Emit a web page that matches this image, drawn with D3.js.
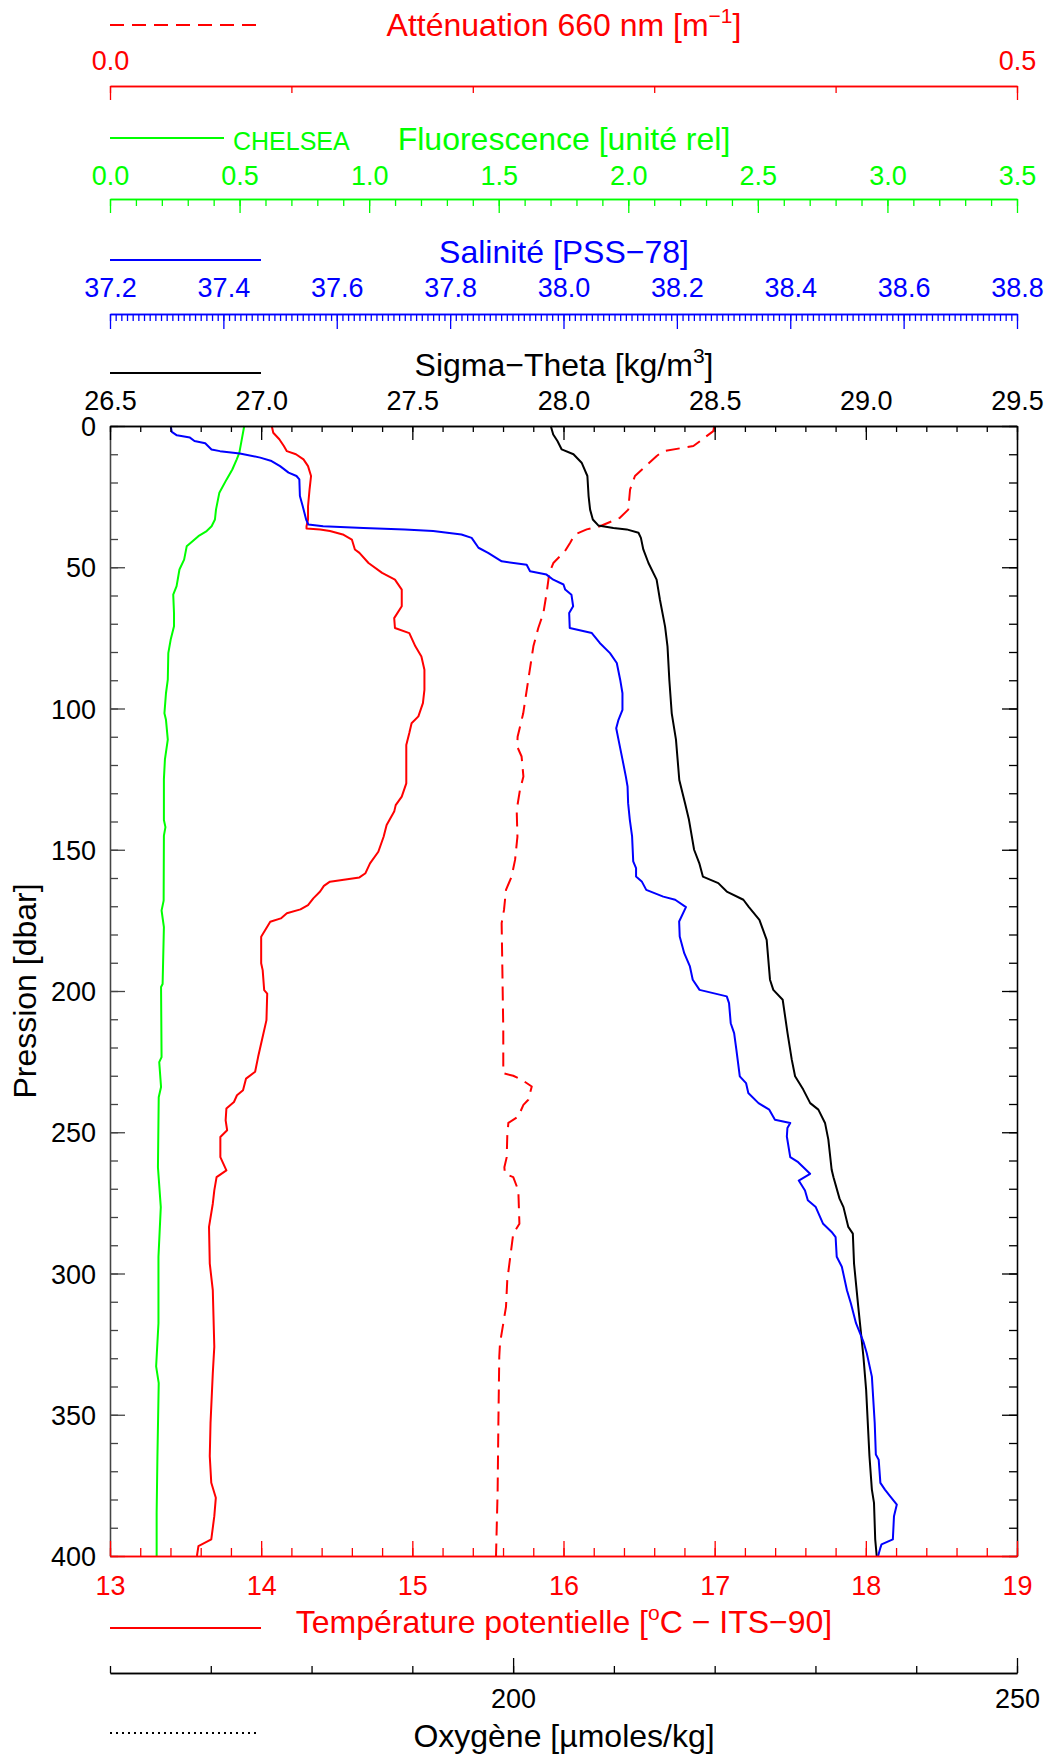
<!DOCTYPE html>
<html>
<head>
<meta charset="utf-8">
<script src="https://cdn.jsdelivr.net/npm/d3@7"></script>
<style>
  body { margin: 0; background: #fff; }
  svg { display: block; }
  text { font-family: "Liberation Sans", Arial, sans-serif; }
</style>
</head>
<body>
<script>
const W = 1050, H = 1756;
const X0 = 110, X1 = 1017, Y0 = 426, Y1 = 1556;
const TICK_FONT = 27;

// [pression dbar, valeur]
const temperature = [[0,14.07],[2.4,14.08],[4.7,14.12],[7.1,14.15],[8.9,14.17],[10,14.23],[11.8,14.28],[14.2,14.31],[17.7,14.33],[22.5,14.32],[28.4,14.31],[33.1,14.31],[35.5,14.30],[36.3,14.30],[36.6,14.39],[37.2,14.455],[38.4,14.54],[40.2,14.60],[43.7,14.62],[44.9,14.65],[48.5,14.71],[52,14.80],[54.4,14.885],[57.9,14.93],[63.8,14.93],[68,14.88],[71.5,14.885],[73.3,14.98],[78,15.02],[81.6,15.06],[86.3,15.08],[93.4,15.08],[98.1,15.07],[102.8,15.04],[105.2,14.995],[108.7,14.98],[112.9,14.96],[126.5,14.96],[131.2,14.93],[134.2,14.89],[136.5,14.88],[141.2,14.83],[145.4,14.81],[150.7,14.775],[154.8,14.72],[158.3,14.69],[159.8,14.65],[161.3,14.455],[162.8,14.415],[164.8,14.39],[167.2,14.345],[169.6,14.31],[171.1,14.26],[172.5,14.17],[174.3,14.13],[175.5,14.06],[180.8,14.00],[190.2,14.00],[192.6,14.01],[199.7,14.02],[200.9,14.04],[210.3,14.035],[216.2,14.01],[223.3,13.98],[228.6,13.96],[231,13.90],[235.1,13.88],[236.9,13.84],[239.3,13.82],[241.6,13.77],[245.8,13.765],[249.3,13.775],[251.7,13.73],[258.8,13.73],[263.5,13.77],[265.9,13.705],[270.6,13.69],[275.3,13.68],[283.5,13.655],[296.5,13.66],[305.9,13.68],[325.9,13.69],[335.3,13.68],[352.9,13.665],[364.7,13.66],[374.1,13.67],[379.4,13.70],[385.9,13.69],[394.1,13.67],[396.5,13.585],[400,13.575]];

const salinite = [[0,37.307],[2.1,37.309],[3.3,37.318],[4.1,37.341],[5.3,37.349],[6.1,37.368],[8.3,37.379],[8.9,37.394],[9.7,37.429],[11.2,37.465],[12.4,37.485],[14.2,37.50],[16.5,37.515],[17.7,37.529],[18.9,37.534],[24.8,37.535],[28.4,37.54],[33.1,37.546],[34.9,37.55],[35.5,37.576],[36.1,37.647],[36.6,37.72],[37.2,37.77],[38.4,37.82],[39.6,37.838],[43.1,37.85],[44.9,37.867],[47.9,37.891],[49.1,37.935],[51.4,37.941],[52.6,37.97],[54.4,37.982],[56.1,38.0],[57.9,38.003],[59.7,38.014],[63.8,38.017],[66.2,38.01],[71.5,38.011],[73.3,38.05],[76.8,38.064],[80.4,38.082],[83.9,38.094],[89.8,38.10],[94.6,38.104],[100.5,38.104],[104,38.097],[107,38.093],[111,38.097],[118,38.104],[124.1,38.11],[127.6,38.113],[133.5,38.114],[139.4,38.117],[145.3,38.121],[154.1,38.123],[156.5,38.128],[159.5,38.128],[161.2,38.138],[164.2,38.146],[166.6,38.176],[167.7,38.197],[170.3,38.216],[175.4,38.204],[180.7,38.205],[186.6,38.213],[191.3,38.223],[196,38.228],[199.6,38.24],[201.9,38.288],[204.3,38.292],[211.4,38.295],[214.9,38.301],[220.8,38.305],[230.2,38.311],[232.6,38.322],[236.1,38.326],[239.7,38.344],[242,38.363],[245.6,38.373],[246.7,38.40],[248.5,38.395],[251.5,38.394],[258.8,38.40],[260.6,38.414],[264.7,38.435],[267.1,38.415],[270.6,38.426],[274.1,38.431],[276.5,38.445],[282.4,38.458],[285.3,38.473],[287.1,38.48],[294.1,38.482],[297.6,38.491],[305.9,38.50],[310.6,38.507],[317.6,38.516],[324.1,38.529],[328.2,38.535],[336.5,38.544],[352.9,38.549],[364.1,38.551],[365.9,38.556],[374.1,38.559],[376.5,38.567],[378.8,38.576],[381.8,38.588],[385.9,38.583],[394.1,38.581],[395.9,38.561],[397.1,38.559],[400,38.555]];

const sigmaTheta = [[0,27.958],[3,27.966],[5.3,27.98],[8.3,27.994],[10,28.033],[13,28.06],[17.7,28.079],[24.8,28.083],[29.6,28.088],[33.1,28.097],[35.2,28.115],[36.1,28.165],[36.6,28.209],[37.8,28.248],[39.6,28.256],[43.7,28.264],[48.5,28.281],[54.4,28.308],[61.5,28.319],[71,28.336],[78,28.344],[89.8,28.35],[101.7,28.358],[111,28.372],[125.3,28.383],[133.5,28.402],[139.4,28.415],[150,28.432],[154.7,28.449],[159.5,28.461],[161.8,28.512],[164.8,28.54],[167.7,28.595],[170.1,28.612],[174.8,28.648],[181.9,28.672],[196,28.683],[199.6,28.694],[203.1,28.725],[214.9,28.741],[224.3,28.755],[230.2,28.766],[234.9,28.793],[239.7,28.816],[242,28.843],[246.7,28.865],[252.6,28.876],[263.3,28.887],[265.9,28.893],[273.5,28.913],[276.5,28.926],[283.5,28.942],[285.9,28.957],[296.5,28.961],[311.8,28.975],[329.4,28.992],[341.2,29.001],[364.7,29.012],[376.5,29.02],[381.2,29.027],[394.1,29.031],[400,29.036]];

const fluorescence = [[0,0.518],[9.5,0.499],[11.8,0.489],[15.4,0.472],[18.9,0.45],[23.6,0.422],[29.6,0.409],[33.1,0.405],[35.5,0.392],[37.2,0.373],[39,0.341],[42.6,0.296],[47.3,0.286],[50.8,0.268],[56.7,0.257],[59.7,0.244],[66.2,0.247],[70.9,0.247],[75.7,0.234],[80.4,0.225],[89.8,0.223],[94.6,0.216],[101.7,0.21],[104,0.216],[111,0.223],[118,0.212],[125,0.208],[139.5,0.208],[142,0.214],[145,0.208],[168,0.207],[171.5,0.199],[177.4,0.208],[197.5,0.203],[198.6,0.197],[223.4,0.199],[225.2,0.19],[234,0.197],[237.6,0.188],[262.4,0.185],[276.5,0.196],[294.1,0.187],[317.6,0.187],[332.9,0.178],[338.8,0.188],[364.7,0.183],[384.7,0.18],[400,0.18]];

const attenuation = [[0,0.3331],[1.8,0.3326],[7.1,0.3216],[8.9,0.305],[10.6,0.3014],[17.7,0.2894],[22.5,0.2867],[29.6,0.2857],[32.5,0.2811],[35.5,0.2701],[36.6,0.2628],[38.4,0.2563],[41.4,0.2536],[44.3,0.2508],[48.5,0.2444],[52,0.2422],[59.1,0.2407],[66.2,0.2389],[71.5,0.2361],[78,0.2334],[89.8,0.2306],[101.7,0.2278],[110,0.2247],[113.5,0.2245],[117,0.2269],[124.1,0.2279],[128.8,0.226],[135.9,0.2242],[145.4,0.2246],[153.6,0.2233],[159.5,0.2214],[164.2,0.2183],[171.3,0.2172],[176,0.2159],[192.5,0.2163],[213.7,0.2168],[229.1,0.2168],[230,0.2223],[231.4,0.2269],[233.8,0.2325],[238.5,0.2306],[240.3,0.2279],[244.4,0.2251],[246.7,0.2196],[251.4,0.219],[258.8,0.2187],[262.4,0.2174],[264.7,0.2177],[265.9,0.2223],[270.6,0.2251],[282.4,0.2257],[285.9,0.2223],[302.4,0.219],[311.8,0.2183],[324.7,0.215],[329.4,0.2146],[352.9,0.2141],[376.5,0.2137],[400,0.2128]];

// ticks / labels
const pressionLabels = [0, 50, 100, 150, 200, 250, 300, 350, 400];
const attLabels = [0.0, 0.5];
const fluoLabels = [0, 0.5, 1, 1.5, 2, 2.5, 3, 3.5];
const salLabels = [37.2, 37.4, 37.6, 37.8, 38.0, 38.2, 38.4, 38.6, 38.8];
const sigmaLabels = [26.5, 27.0, 27.5, 28.0, 28.5, 29.0, 29.5];
const tempLabels = [13, 14, 15, 16, 17, 18, 19];
const oxyLabels = [200, 250];

const RED = "#ff0000", GREEN = "#00ff00", BLUE = "#0000ff";

const svg = d3.select("body").append("svg").attr("width", W).attr("height", H);

const y = d3.scaleLinear().domain([0, 400]).range([Y0, Y1]);
const xTemp = d3.scaleLinear().domain([13, 19]).range([X0, X1]);
const xSal = d3.scaleLinear().domain([37.2, 38.8]).range([X0, X1]);
const xSig = d3.scaleLinear().domain([26.5, 29.5]).range([X0, X1]);
const xFluo = d3.scaleLinear().domain([0, 3.5]).range([X0, X1]);
const xAtt = d3.scaleLinear().domain([0, 0.5]).range([X0, X1]);
const xOxy = d3.scaleLinear().domain([160, 250]).range([X0, X1]);

function steps(a, b, s) {
    const n = Math.round((b - a) / s);
    return d3.range(n + 1).map(i => a + i * s);
}

// labels placed on a baseline, centred on the scale positions
function labelRow(scale, labelY, values, fmt, color) {
    svg.append("g").attr("transform", `translate(0,${labelY})`)
        .call(d3.axisTop(scale).tickValues(values).tickSize(0).tickSizeOuter(0).tickFormat(fmt))
        .call(g => g.select(".domain").remove())
        .call(g => g.selectAll("text").attr("y", 0).attr("dy", 0)
            .attr("fill", color).attr("font-size", TICK_FONT)
            .attr("font-family", '"Liberation Sans", Arial, sans-serif'));
}

// horizontal axis: positive lengths → ticks go down, negative → up
function hAxis(scale, yPos, color, minor, major, minorLen, majorLen) {
    const ax = minorLen > 0 ? d3.axisBottom : d3.axisTop;
    const g = svg.append("g").attr("transform", `translate(0,${yPos})`);
    g.append("g").call(ax(scale).tickValues(minor).tickSize(Math.abs(minorLen)).tickSizeOuter(0).tickFormat(""));
    g.append("g").call(ax(scale).tickValues(major).tickSize(Math.abs(majorLen)).tickSizeOuter(0).tickFormat(""));
    g.selectAll("path, line").attr("stroke", color).attr("stroke-width", 1.3);
    return g;
}

function legendLine(x1, x2, yy, color, dash) {
    svg.append("line").attr("x1", x1).attr("x2", x2).attr("y1", yy).attr("y2", yy)
        .attr("stroke", color).attr("stroke-width", 2)
        .attr("stroke-dasharray", dash || null);
}

function title(yy, color, parts) {
    const t = svg.append("text").attr("x", 564).attr("y", yy)
        .attr("text-anchor", "middle").attr("font-size", 32).attr("fill", color);
    parts.forEach(p => {
        if (typeof p === "string") t.append("tspan").text(p);
        else {
            t.append("tspan").attr("dy", -13).attr("font-size", 21).text(p.sup);
            t.append("tspan").attr("dy", 13).text(p.after);
        }
    });
}

// ---- Atténuation
legendLine(110, 261, 25, RED, "14,8");
title(36, RED, ["Atténuation 660 nm [m", {sup: "\u22121", after: "]"}]);
hAxis(xAtt, 86, RED, steps(0, 0.5, 0.1), [0, 0.5], 7, 14);
labelRow(xAtt, 70, attLabels, d3.format(".1f"), RED);

// ---- Fluorescence
legendLine(110, 224, 138, GREEN);
svg.append("text").attr("x", 233).attr("y", 150).attr("font-size", 25).attr("fill", GREEN).text("CHELSEA");
title(150, GREEN, ["Fluorescence [unité rel]"]);
hAxis(xFluo, 199, GREEN, steps(0, 3.5, 0.1), steps(0, 3.5, 0.5), 7, 14);
labelRow(xFluo, 185, fluoLabels, d3.format(".1f"), GREEN);

// ---- Salinité
legendLine(110, 261, 260, BLUE);
title(263, BLUE, ["Salinité [PSS\u221278]"]);
hAxis(xSal, 314, BLUE, steps(37.2, 38.8, 0.01), steps(37.2, 38.8, 0.2), 7, 15);
labelRow(xSal, 297, salLabels, d3.format(".1f"), BLUE);

// ---- Sigma-Theta (cadre haut)
legendLine(110, 261, 373, "#000");
title(376, "#000", ["Sigma\u2212Theta [kg/m", {sup: "3", after: "]"}]);

// ---- courbes
const line = (xs, data) => d3.line().x(d => xs(d[1])).y(d => y(d[0]))(data);
const curves = svg.append("g").attr("fill", "none").attr("stroke-width", 2).attr("stroke-linejoin", "round");
curves.append("path").attr("d", line(xFluo, fluorescence)).attr("stroke", GREEN);
curves.append("path").attr("d", line(xTemp, temperature)).attr("stroke", RED);
curves.append("path").attr("d", line(xAtt, attenuation)).attr("stroke", RED).attr("stroke-dasharray", "14,8");
curves.append("path").attr("d", line(xSig, sigmaTheta)).attr("stroke", "#000");
curves.append("path").attr("d", line(xSal, salinite)).attr("stroke", BLUE);

// cadre : gauche / droite (pression)
const pMinor = steps(0, 400, 10), pMajor = steps(0, 400, 50);
[[X0, d3.axisRight, "#444"], [X1, d3.axisLeft, "#000"]].forEach(([xx, ax, col]) => {
    const g = svg.append("g").attr("transform", `translate(${xx},0)`);
    g.append("g").call(ax(y).tickValues(pMinor).tickSize(8).tickSizeOuter(0).tickFormat(""));
    g.append("g").call(ax(y).tickValues(pMajor).tickSize(15).tickSizeOuter(0).tickFormat(""));
    g.selectAll("path, line").attr("stroke", col).attr("stroke-width", 1.3);
});
const pl = svg.append("g").attr("transform", `translate(${X0 - 14},0)`)
    .call(d3.axisLeft(y).tickValues(pressionLabels).tickSize(0).tickSizeOuter(0));
pl.select(".domain").remove();
pl.selectAll("text").attr("x", 0).attr("dy", "0.36em").attr("fill", "#000").attr("font-size", TICK_FONT)
    .attr("font-family", '"Liberation Sans", Arial, sans-serif');
svg.append("text").attr("transform", `translate(36,${(Y0 + Y1) / 2}) rotate(-90)`)
    .attr("text-anchor", "middle").attr("font-size", 32).text("Pression [dbar]");

// haut : sigma-theta
hAxis(xSig, Y0, "#000", steps(26.5, 29.5, 0.1), sigmaLabels, 6, 14);
labelRow(xSig, 410, sigmaLabels, d3.format(".1f"), "#000");

// bas : température
hAxis(xTemp, Y1, RED, steps(13, 19, 0.2), tempLabels, -8, -15);
labelRow(xTemp, 1595, tempLabels, d3.format("d"), RED);
legendLine(110, 261, 1628, RED);
title(1633, RED, ["Température potentielle [", {sup: "o", after: "C \u2212 ITS\u221290]"}]);

// ---- Oxygène
hAxis(xOxy, 1673, "#000", steps(160, 250, 10), [200, 250], -7, -15);
labelRow(xOxy, 1708, oxyLabels, d3.format("d"), "#000");
legendLine(110, 258, 1733, "#000", "2,4");
title(1747, "#000", ["Oxygène [µmoles/kg]"]);
</script>
</body>
</html>
